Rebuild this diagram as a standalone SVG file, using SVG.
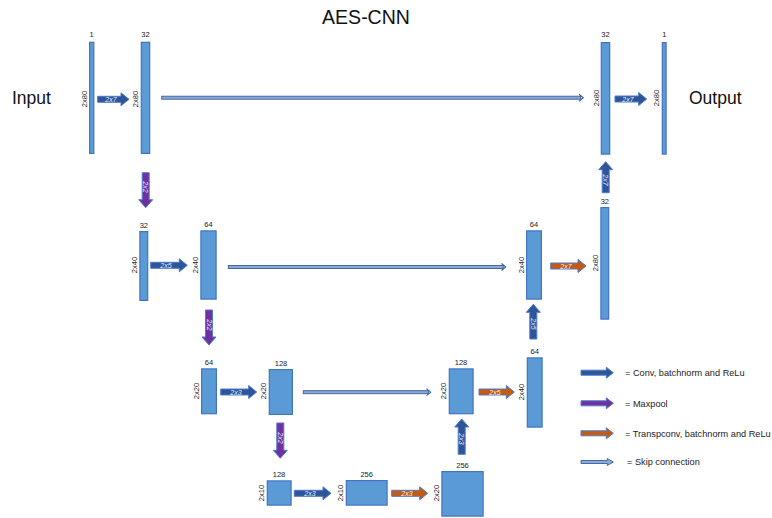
<svg xmlns="http://www.w3.org/2000/svg" width="772" height="518" viewBox="0 0 772 518">
  <style>
    .bar { fill: #5b9bd5; stroke: #4472c4; stroke-width: 1.2; }
    .conv { fill: #2f5597; stroke: #4a7bd0; stroke-width: 1; }
    .pool { fill: #7030a0; stroke: #4a7bd0; stroke-width: 1; }
    .tconv { fill: #c55a11; stroke: #4a7bd0; stroke-width: 1; }
    .skip { fill: #8aa8da; stroke: #3a5f99; stroke-width: 0.9; }
    .skiphead { fill: none; stroke: #3a5f99; stroke-width: 1.1; }
    .title { font-family: "Liberation Sans", Arial, sans-serif; font-size: 19.5px; fill: #111; text-anchor: middle; }
    .io { font-family: "Liberation Sans", Arial, sans-serif; font-size: 17.5px; fill: #111; }
    .ch { font-family: "Liberation Sans", Arial, sans-serif; font-size: 7.5px; fill: #222; text-anchor: middle; }
    .dim { font-family: "Liberation Sans", Arial, sans-serif; font-size: 7.5px; fill: #222; text-anchor: middle; dominant-baseline: central; }
    .al { font-family: "Liberation Sans", Arial, sans-serif; font-size: 7px; fill: #e8eefa; text-anchor: middle; dominant-baseline: central; font-style: italic; }
    .leg { font-family: "Liberation Sans", Arial, sans-serif; font-size: 9.2px; fill: #222; }
  </style>

  <text class="title" x="366" y="24">AES-CNN</text>
  <text class="io" x="12" y="104">Input</text>
  <text class="io" x="689" y="104">Output</text>

  <!-- Connectors -->
  <g id="connectors">
    <!-- skip connections -->
    <g id="skip-1">
      <rect class="skip" x="161.7" y="96.2" width="419" height="3"/>
      <polyline class="skiphead" points="579,94.2 583.3,97.7 579,101.2"/>
    </g>
    <g id="skip-2">
      <rect class="skip" x="228.3" y="265.5" width="275" height="3"/>
      <polyline class="skiphead" points="501.5,263.5 505.7,267 501.5,270.5"/>
    </g>
    <g id="skip-3">
      <rect class="skip" x="303.3" y="390.7" width="125" height="3"/>
      <polyline class="skiphead" points="426.5,388.7 430.7,392.2 426.5,395.7"/>
    </g>

    <!-- conv, batchnorm, ReLu (horizontal) -->
    <path class="conv" d="M97.7,96.3 H121 V92.8 L129,99.3 L121,105.8 V102.3 H97.7 Z"/>
    <text class="al" x="111" y="99.3">2x7</text>
    <path class="conv" d="M615,96 H638.7 V92.5 L646.7,99 L638.7,105.5 V102 H615 Z"/>
    <text class="al" x="628" y="99">2x7</text>
    <path class="conv" d="M150.7,262.3 H179.3 V258.8 L187.3,265.3 L179.3,271.8 V268.3 H150.7 Z"/>
    <text class="al" x="166" y="265.3">2x5</text>
    <path class="conv" d="M220.7,389 H248.7 V385.5 L256.7,392 L248.7,398.5 V395 H220.7 Z"/>
    <text class="al" x="236" y="392">2x3</text>
    <path class="conv" d="M294.3,490.3 H323 V486.8 L331,493.3 L323,499.8 V496.3 H294.3 Z"/>
    <text class="al" x="310" y="493.3">2x3</text>

    <!-- transposed conv (horizontal) -->
    <path class="tconv" d="M550.7,263 H578 V259.5 L586,266 L578,272.5 V269 H550.7 Z"/>
    <text class="al" x="566" y="266">2x7</text>
    <path class="tconv" d="M479,389 H506.3 V385.5 L514.3,392 L506.3,398.5 V395 H479 Z"/>
    <text class="al" x="495" y="392">2x5</text>
    <path class="tconv" d="M391.7,490.3 H419.7 V486.8 L427.7,493.3 L419.7,499.8 V496.3 H391.7 Z"/>
    <text class="al" x="407" y="493.3">2x3</text>

    <!-- maxpool (downward) -->
    <path class="pool" d="M142.2,172.7 V199.7 H138.7 L145.7,207.7 L152.7,199.7 H149.2 V172.7 Z"/>
    <text class="al" transform="translate(145.7,187) rotate(90)">2x2</text>
    <path class="pool" d="M205.5,310 V337 H202 L209,345 L216,337 H212.5 V310 Z"/>
    <text class="al" transform="translate(209,325) rotate(90)">2x2</text>
    <path class="pool" d="M276.8,423 V450.3 H273.3 L280.3,458.3 L287.3,450.3 H283.8 V423 Z"/>
    <text class="al" transform="translate(280.3,438) rotate(90)">2x2</text>

    <!-- conv, batchnorm, ReLu (upward) -->
    <path class="conv" d="M602.2,192.7 V169.7 H598.7 L605.7,161.7 L612.7,169.7 H609.2 V192.7 Z"/>
    <text class="al" transform="translate(605.7,180) rotate(90)">2x7</text>
    <path class="conv" d="M529.8,339 V312.3 H526.3 L533.3,304.3 L540.3,312.3 H536.8 V339 Z"/>
    <text class="al" transform="translate(533.3,324) rotate(90)">2x5</text>
    <path class="conv" d="M458.2,454.3 V427 H454.7 L461.7,419 L468.7,427 H465.2 V454.3 Z"/>
    <text class="al" transform="translate(461.7,439) rotate(90)">2x3</text>
  </g>

  <!-- Encoder, level 1 -->
  <g id="enc1-in">
    <rect class="bar" x="89.6" y="42.3" width="4.2" height="111.1"/>
    <text class="ch" x="91.7" y="37">1</text>
    <text class="dim" transform="translate(84,99) rotate(-90)">2x80</text>
  </g>
  <g id="enc1-conv">
    <rect class="bar" x="141.3" y="42.3" width="8.4" height="111.1"/>
    <text class="ch" x="145.5" y="37">32</text>
    <text class="dim" transform="translate(135.5,99) rotate(-90)">2x80</text>
  </g>

  <!-- Encoder, level 2 -->
  <g id="enc2-pool">
    <rect class="bar" x="139.9" y="231.6" width="7.8" height="68.8"/>
    <text class="ch" x="143.8" y="227.5">32</text>
    <text class="dim" transform="translate(134,265) rotate(-90)">2x40</text>
  </g>
  <g id="enc2-conv">
    <rect class="bar" x="200.9" y="230.9" width="15.2" height="68.2"/>
    <text class="ch" x="208.5" y="227">64</text>
    <text class="dim" transform="translate(195.5,265) rotate(-90)">2x40</text>
  </g>

  <!-- Encoder, level 3 -->
  <g id="enc3-pool">
    <rect class="bar" x="201.6" y="368.9" width="14.8" height="44.8"/>
    <text class="ch" x="209" y="365">64</text>
    <text class="dim" transform="translate(196,391) rotate(-90)">2x20</text>
  </g>
  <g id="enc3-conv">
    <rect class="bar" x="269.3" y="369.6" width="23.1" height="44.8"/>
    <text class="ch" x="281" y="365.5">128</text>
    <text class="dim" transform="translate(263,391) rotate(-90)">2x20</text>
  </g>

  <!-- Bottleneck -->
  <g id="bott-pool">
    <rect class="bar" x="267.3" y="480.9" width="23.8" height="24.2"/>
    <text class="ch" x="279" y="477">128</text>
    <text class="dim" transform="translate(261,493) rotate(-90)">2x10</text>
  </g>
  <g id="bott-conv">
    <rect class="bar" x="346.3" y="480.6" width="40.8" height="24.5"/>
    <text class="ch" x="366.7" y="476.5">256</text>
    <text class="dim" transform="translate(340.5,493) rotate(-90)">2x10</text>
  </g>
  <g id="bott-up">
    <rect class="bar" x="441.9" y="471.6" width="41.2" height="44.5"/>
    <text class="ch" x="462.5" y="467.5">256</text>
    <text class="dim" transform="translate(436,493) rotate(-90)">2x20</text>
  </g>

  <!-- Decoder, level 3 -->
  <g id="dec3-conv">
    <rect class="bar" x="449.3" y="368.9" width="23.8" height="44.8"/>
    <text class="ch" x="461" y="365">128</text>
    <text class="dim" transform="translate(443,391) rotate(-90)">2x20</text>
  </g>
  <g id="dec3-up">
    <rect class="bar" x="527.3" y="357.9" width="14.8" height="69.2"/>
    <text class="ch" x="534.7" y="354">64</text>
    <text class="dim" transform="translate(521,392) rotate(-90)">2x40</text>
  </g>

  <!-- Decoder, level 2 -->
  <g id="dec2-conv">
    <rect class="bar" x="526.6" y="230.9" width="14.8" height="68.2"/>
    <text class="ch" x="534" y="227">64</text>
    <text class="dim" transform="translate(521,265) rotate(-90)">2x40</text>
  </g>
  <g id="dec2-up">
    <rect class="bar" x="600.9" y="207.6" width="7.8" height="111.5"/>
    <text class="ch" x="604.8" y="203.5">32</text>
    <text class="dim" transform="translate(595,263) rotate(-90)">2x80</text>
  </g>

  <!-- Decoder, level 1 -->
  <g id="dec1-conv">
    <rect class="bar" x="601.3" y="42.6" width="8.4" height="111.5"/>
    <text class="ch" x="605.5" y="37">32</text>
    <text class="dim" transform="translate(596,98) rotate(-90)">2x80</text>
  </g>
  <g id="dec1-out">
    <rect class="bar" x="662.3" y="42.6" width="3.8" height="111.5"/>
    <text class="ch" x="664.3" y="37">1</text>
    <text class="dim" transform="translate(656,98) rotate(-90)">2x80</text>
  </g>

  <!-- Legend -->
  <g id="legend">
    <path class="conv" d="M581,370.2 H606.3 V367.2 L613.3,372.7 L606.3,378.2 V375.2 H581 Z"/>
    <text class="leg" x="625" y="376">= Conv, batchnorm and ReLu</text>
    <path class="pool" d="M581,400.8 H606.3 V397.8 L613.3,403.3 L606.3,408.8 V405.8 H581 Z"/>
    <text class="leg" x="625" y="406.5">= Maxpool</text>
    <path class="tconv" d="M581,430.8 H606.3 V427.8 L613.3,433.3 L606.3,438.8 V435.8 H581 Z"/>
    <text class="leg" x="625" y="436.5">= Transpconv, batchnorm and ReLu</text>
    <path class="skip" d="M581,460.5 H607.3 V458.5 L613.3,462 L607.3,465.5 V463.5 H581 Z"/>
    <text class="leg" x="627" y="465">= Skip connection</text>
  </g>
</svg>
